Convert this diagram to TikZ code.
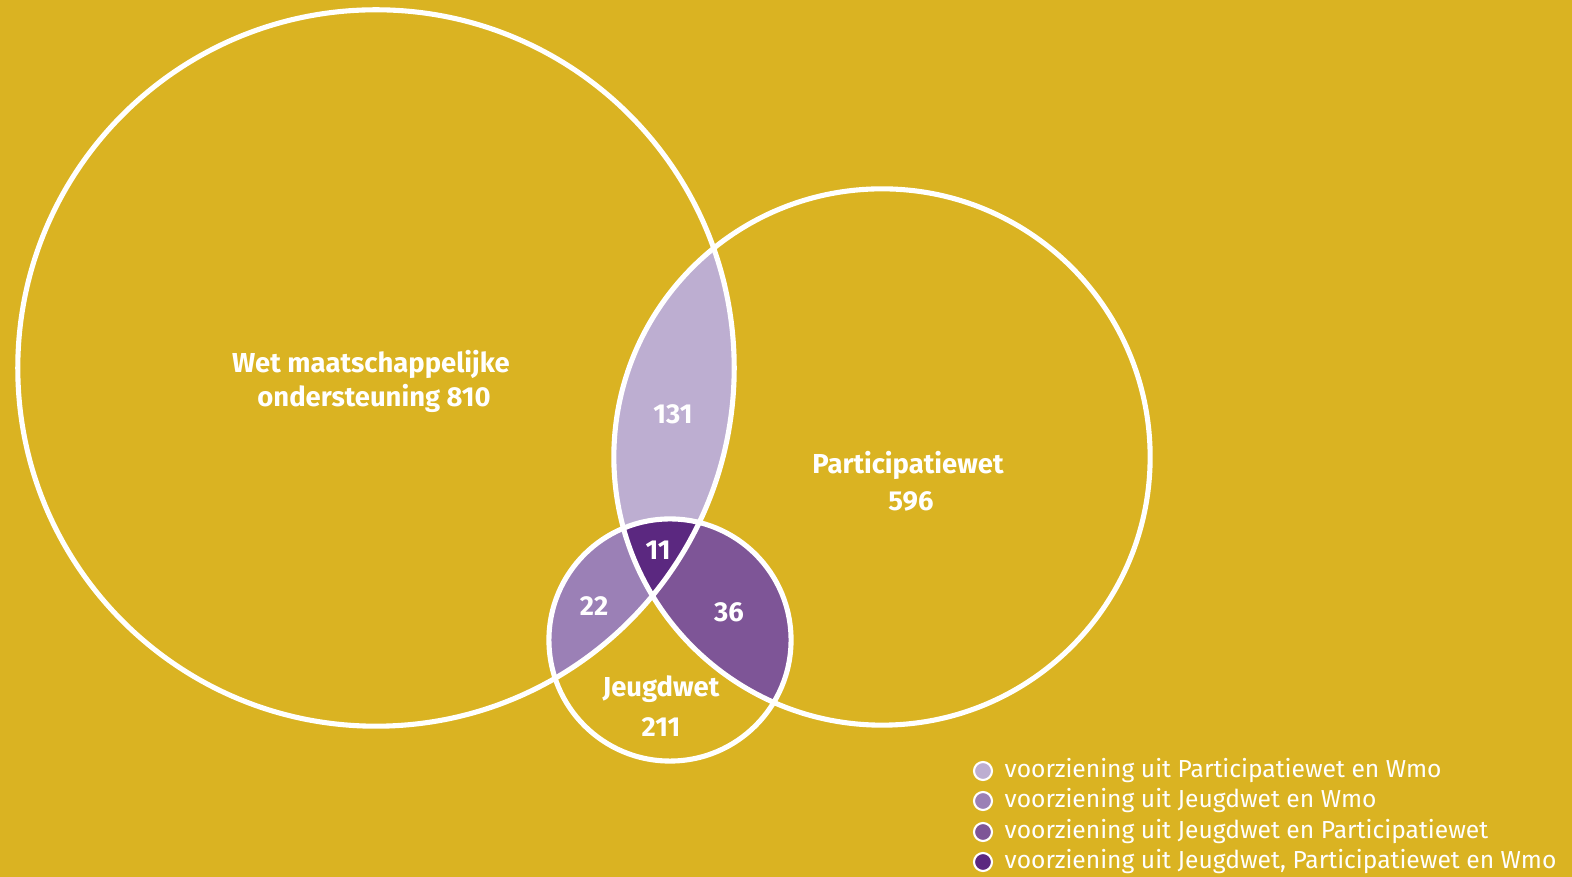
\documentclass[tikz,border=0pt]{standalone}
\usepackage{fontspec}
\setmainfont{Fira Sans}
\definecolor{bg}{HTML}{DAB322}
\definecolor{cAP}{HTML}{BDAED1}
\definecolor{cAJ}{HTML}{9B80B6}
\definecolor{cPJ}{HTML}{7E5597}
\definecolor{cAPJ}{HTML}{5B2880}
\tikzset{
  ring/.style={draw=white, line width=1.45pt},
  lbl/.style={text=white, font=\fontsize{7.8}{9.5}\selectfont\bfseries, inner sep=0pt, align=center},
  leg/.style={text=white, font=\fontsize{7}{8.4}\selectfont, inner sep=0pt, anchor=west},
  legdot/.style={circle, draw=white, line width=0.6pt, minimum size=0.18cm, inner sep=0pt}
}
\begin{document}
\begin{tikzpicture}[x=0.01cm,y=-0.01cm]
\fill[bg] (0,0) rectangle (1572,877);
\useasboundingbox (0,0) rectangle (1572,877);
\coordinate (A) at (376,368);
\coordinate (P) at (882,457);
\coordinate (J) at (670,640);
% overlaps
\begin{scope}
  \clip (A) circle[radius=3.58cm];
  \fill[cAP] (P) circle[radius=2.68cm];
  \fill[cAJ] (J) circle[radius=1.21cm];
\end{scope}
\begin{scope}
  \clip (P) circle[radius=2.68cm];
  \fill[cPJ] (J) circle[radius=1.21cm];
  \clip (A) circle[radius=3.58cm];
  \fill[cAPJ] (J) circle[radius=1.21cm];
\end{scope}
% rings
\draw[ring] (A) circle[radius=3.58cm];
\draw[ring] (P) circle[radius=2.68cm];
\draw[ring] (J) circle[radius=1.21cm];
% labels
\node[lbl] (lA1) at (371,364) {Wet maatschappelijke};
\node[lbl] (lA2) at (374,398) {ondersteuning 810};
\node[lbl] (lAP) at (673,414) {131};
\node[lbl] (lP1) at (908,465) {Participatiewet};
\node[lbl] (lP2) at (911,501) {596};
\node[lbl] (lAPJ) at (658,550) {11};
\node[lbl] (lAJ) at (594,606) {22};
\node[lbl] (lPJ) at (729,612) {36};
\node[lbl] (lJ1) at (661,689) {Jeugdwet};
\node[lbl] (lJ2) at (661,727) {211};
% legend
\node[legdot, fill=cAP] (d1) at (983,771) {};
\node[legdot, fill=cAJ] (d2) at (983,801) {};
\node[legdot, fill=cPJ] (d3) at (983,832) {};
\node[legdot, fill=cAPJ] (d4) at (983,862) {};
\node[leg] (t1) at (1004,771) {voorziening uit Participatiewet en Wmo};
\node[leg] (t2) at (1004,801) {voorziening uit Jeugdwet en Wmo};
\node[leg] (t3) at (1004,832) {voorziening uit Jeugdwet en Participatiewet};
\node[leg] (t4) at (1004,862) {voorziening uit Jeugdwet, Participatiewet en Wmo};
\end{tikzpicture}
\end{document}
